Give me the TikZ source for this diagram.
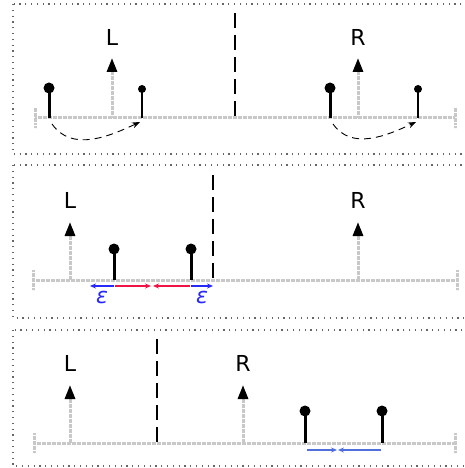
\documentclass[tikz,border=0pt]{standalone}
\usepackage{fontspec}
\setmainfont{DejaVu Sans}
\usetikzlibrary{arrows.meta}
\definecolor{axcol}{RGB}{200,200,200}
\definecolor{epscol}{RGB}{40,40,250}
\definecolor{gapcol}{RGB}{240,20,70}
\definecolor{pullcol}{RGB}{80,110,220}
\tikzset{every picture/.style={x=1pt,y=-1pt}}
\tikzset{panel/.style={line width=1.2pt,black!60,dash pattern=on 1.2pt off 4.6pt}}
\tikzset{axis/.style={axcol,line width=3pt,dash pattern=on 2pt off 0.5pt}}
\tikzset{dir/.style={axcol,line width=3pt,dash pattern=on 2pt off 0.5pt,-{Triangle[black,length=14pt,width=10pt]}}}
\tikzset{lbl/.style={font=\fontsize{22}{26}\selectfont,inner sep=0pt}}
\tikzset{ball/.style={circle,fill=black,inner sep=0pt,minimum size=11pt}}
\tikzset{smallball/.style={circle,fill=black,inner sep=0pt,minimum size=8pt}}
\tikzset{stem/.style={line width=3pt}}
\tikzset{thinstem/.style={line width=1.5pt}}
\tikzset{cut/.style={line width=2.6pt,dash pattern=on 15pt off 7pt}}
\tikzset{hop/.style={line width=0.9pt,dash pattern=on 7pt off 5pt,-{Stealth[length=8pt,width=6pt]}}}
\tikzset{eps/.style={epscol,line width=1.1pt,-{Stealth[length=6pt,width=5pt]}}}
\tikzset{gap/.style={gapcol,line width=1.1pt,-{Stealth[length=6pt,width=5pt]}}}
\tikzset{pull/.style={pullcol,line width=1.1pt,-{Stealth[length=6pt,width=5pt]}}}

\begin{document}
\begin{tikzpicture}
\useasboundingbox (0,0) rectangle (464,468);

% frames
\draw [panel] (13,4) rectangle (470,154);
\draw [panel] (13,165) rectangle (470,318);
\draw [panel] (13,330) rectangle (470,466);

% first row
\coordinate (a1) at (35,118);
\coordinate (b1) at (455,118);
\draw [axis] (a1) -- (b1);
\draw [axis] (35,108) -- (35,128);
\draw [axis] (455,108) -- (455,128);

\coordinate (l1) at (112,118);
\coordinate (l1t) at (112,58);
\draw [dir] (l1) -- (l1t);
\node [lbl] (L1) at (112,37) {L};
\coordinate (r1) at (358,118);
\coordinate (r1t) at (358,58);
\draw [dir] (r1) -- (r1t);
\node [lbl] (R1) at (358,37) {R};

\coordinate (c1) at (235,118);
\coordinate (c1t) at (235,13);
\draw [cut] (c1t) -- (c1);

\coordinate (p1) at (49,118);
\node [ball] (q1) at (49,88) {};
\draw [stem] (p1) -- (q1.center);
\coordinate (p2) at (142,118);
\node [smallball] (q2) at (142,89) {};
\draw [thinstem] (p2) -- (q2.center);
\coordinate (p3) at (330,118);
\node [ball] (q3) at (330,88) {};
\draw [stem] (p3) -- (q3.center);
\coordinate (p4) at (418,118);
\node [smallball] (q4) at (418,89) {};
\draw [thinstem] (p4) -- (q4.center);

\coordinate (h1) at (52,124);
\coordinate (h2) at (140,122);
\draw [hop] (h1) to[out=-55,in=-155] (h2);
\coordinate (h3) at (333,124);
\coordinate (h4) at (416,122);
\draw [hop] (h3) to[out=-55,in=-155] (h4);

% second row
\coordinate (a2) at (33,280);
\coordinate (b2) at (457,280);
\draw [axis] (a2) -- (b2);
\draw [axis] (33,270) -- (33,290);
\draw [axis] (457,270) -- (457,290);

\coordinate (l2) at (70,280);
\coordinate (l2t) at (70,222);
\draw [dir] (l2) -- (l2t);
\node [lbl] (L2) at (70,200) {L};
\coordinate (r2) at (358,280);
\coordinate (r2t) at (358,222);
\draw [dir] (r2) -- (r2t);
\node [lbl] (R2) at (358,200) {R};

\coordinate (c2) at (213,280);
\coordinate (c2t) at (213,175);
\draw [cut] (c2t) -- (c2);

\coordinate (p5) at (114,280);
\node [ball] (q5) at (114,249) {};
\draw [stem] (p5) -- (q5.center);
\coordinate (p6) at (191,280);
\node [ball] (q6) at (191,249) {};
\draw [stem] (p6) -- (q6.center);

\coordinate (e1) at (114,286);
\coordinate (e2) at (90,286);
\draw [eps] (e1) -- (e2);
\coordinate (e3) at (115,286);
\coordinate (e4) at (151,286);
\draw [gap] (e3) -- (e4);
\coordinate (e5) at (190,286);
\coordinate (e6) at (153,286);
\draw [gap] (e5) -- (e6);
\coordinate (e7) at (191,286);
\coordinate (e8) at (213,286);
\draw [eps] (e7) -- (e8);
\node [lbl,epscol] (eps1) at (102,297) {\itshape ε};
\node [lbl,epscol] (eps2) at (202,297) {\itshape ε};

% third row
\coordinate (a3) at (34,443);
\coordinate (b3) at (455,443);
\draw [axis] (a3) -- (b3);
\draw [axis] (34,433) -- (34,453);
\draw [axis] (455,433) -- (455,453);

\coordinate (l3) at (70,443);
\coordinate (l3t) at (70,385);
\draw [dir] (l3) -- (l3t);
\node [lbl] (L3) at (70,363) {L};
\coordinate (r3) at (243,443);
\coordinate (r3t) at (243,385);
\draw [dir] (r3) -- (r3t);
\node [lbl] (R3) at (243,363) {R};

\coordinate (c3) at (157,443);
\coordinate (c3t) at (157,339);
\draw [cut] (c3t) -- (c3);

\coordinate (p7) at (305,443);
\node [ball] (q7) at (305,411) {};
\draw [stem] (p7) -- (q7.center);
\coordinate (p8) at (382,443);
\node [ball] (q8) at (382,411) {};
\draw [stem] (p8) -- (q8.center);

\coordinate (f1) at (307,450);
\coordinate (f2) at (337,450);
\draw [pull] (f1) -- (f2);
\coordinate (f3) at (381,450);
\coordinate (f4) at (338,450);
\draw [pull] (f3) -- (f4);
\end{tikzpicture}
\end{document}
